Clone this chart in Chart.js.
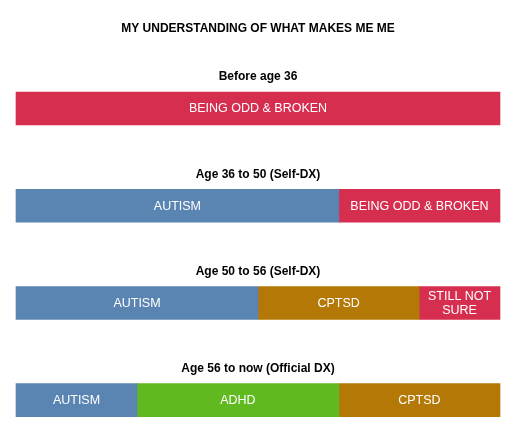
<!DOCTYPE html>
<html>
<head>
<meta charset="utf-8">
<script src="https://cdn.jsdelivr.net/npm/chart.js@4/dist/chart.umd.min.js"></script>
<style>
  html, body { margin: 0; padding: 0; background: #fff; }
  #wrap { width: 525px; height: 439px; position: relative; }
</style>
</head>
<body>
<div id="wrap"><canvas id="c"></canvas></div>
<script>
const title = "MY UNDERSTANDING OF WHAT MAKES ME ME";
const periods = ["Before age 36", "Age 36 to 50 (Self-DX)", "Age 50 to 56 (Self-DX)", "Age 56 to now (Official DX)"];
const segmentNames = ["AUTISM", "ADHD", "CPTSD", "STILL NOT SURE", "BEING ODD & BROKEN"];
const segmentLines = [["AUTISM"], ["ADHD"], ["CPTSD"], ["STILL NOT", "SURE"], ["BEING ODD & BROKEN"]];
const autism = [null, 66.7, 50, 25];
const adhd = [null, null, null, 41.7];
const cptsd = [null, null, 33.3, 33.3];
const stillNotSure = [null, null, 16.7, null];
const beingOdd = [100, 33.3, null, null];
const seriesValues = [autism, adhd, cptsd, stillNotSure, beingOdd];
const colors = ["#5A84B1", "#5FB91F", "#B47806", "#D62E4F", "#D62E4F"];

const FONT = "'Liberation Sans', Arial, Helvetica, sans-serif";

const labelPlugin = {
  id: 'segmentLabels',
  afterDatasetsDraw(chart) {
    const ctx = chart.ctx;
    ctx.save();
    ctx.fillStyle = '#ffffff';
    ctx.font = '12.5px ' + FONT;
    ctx.textAlign = 'center';
    ctx.textBaseline = 'middle';
    chart.data.datasets.forEach((ds, di) => {
      const meta = chart.getDatasetMeta(di);
      meta.data.forEach((el, i) => {
        if (!ds.data[i]) return;
        const cx = (el.x + el.base) / 2;
        const lines = segmentLines[di];
        const lh = 14.3;
        const y0 = el.y + 0.5 - (lines.length - 1) * lh / 2;
        lines.forEach((t, k) => ctx.fillText(t, cx, y0 + k * lh));
      });
    });
    const yScale = chart.scales.y;
    const area = chart.chartArea;
    ctx.fillStyle = '#000000';
    ctx.font = 'bold 12px ' + FONT;
    periods.forEach((p, i) => {
      const y = yScale.getPixelForValue(i);
      ctx.fillText(p, (area.left + area.right) / 2, y - 31.5);
    });
    ctx.restore();
  }
};

new Chart(document.getElementById('c'), {
  type: 'bar',
  data: {
    labels: periods,
    datasets: seriesValues.map((vals, i) => ({
      label: segmentNames[i],
      data: vals,
      backgroundColor: colors[i],
      borderWidth: 0,
      barThickness: 33,
      clip: false
    }))
  },
  options: {
    indexAxis: 'y',
    responsive: true,
    maintainAspectRatio: false,
    animation: false,
    layout: { padding: { left: 16, right: 25, top: 0, bottom: 38.8 } },
    scales: {
      x: { stacked: true, min: 0, max: 100, display: false },
      y: { stacked: true, display: false, offset: false }
    },
    plugins: {
      legend: { display: false },
      tooltip: { enabled: false },
      title: {
        display: true,
        text: title,
        color: '#000000',
        font: { family: FONT, size: 12, weight: 'bold' },
        padding: { top: 21, bottom: 73.1 }
      }
    }
  },
  plugins: [labelPlugin]
});
</script>
</body>
</html>
